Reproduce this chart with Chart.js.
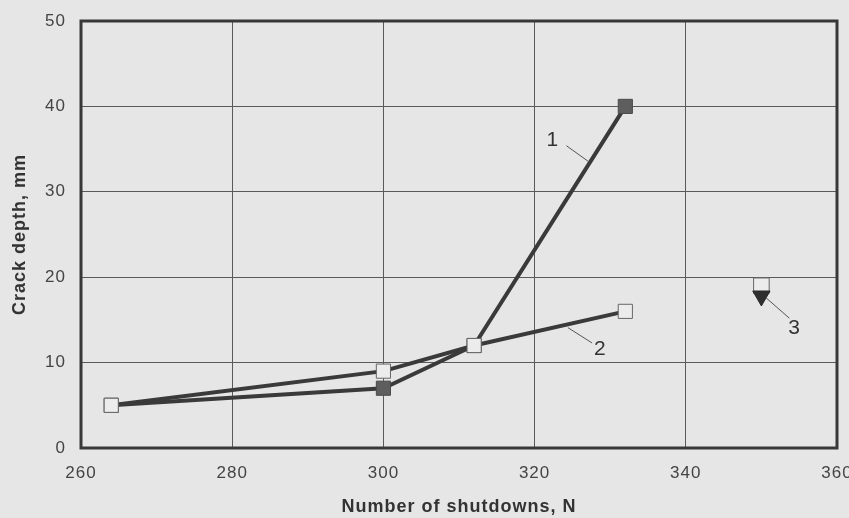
<!DOCTYPE html>
<html>
<head>
<meta charset="utf-8">
<script src="https://cdn.jsdelivr.net/npm/chart.js@4"></script>
<style>
  html, body { margin: 0; padding: 0; background: #e6e6e6; }
  #wrap { width: 849px; height: 518px; }
</style>
</head>
<body>
<div id="wrap"><canvas id="crackChart" width="849" height="518"></canvas></div>
<script>
// values
const shutdowns1 = [264, 300, 312, 332];
const depth1 = [5, 7, 12, 40];
const shutdowns2 = [264, 300, 312, 332];
const depth2 = [5, 9, 12, 16];
const shutdowns3 = [350];
const depth3Square = [19];
const depth3Triangle = [17.8];

// curve numbers with leader lines, in data units: [text, textX, textY, fromX, fromY, toX, toY]
const callouts = [
    ['1', 322.4, 36.1, 324.2, 35.4, 327.2, 33.5],
    ['2', 328.7, 11.6, 327.6, 12.3, 324.4, 14.1],
    ['3', 354.4, 14.0, 353.7, 15.2, 350.6, 17.6]
];

const ink = '#3a3a3a';
const font = '"Liberation Sans", Arial, sans-serif';
const toXY = (xs, ys) => xs.map((x, i) => ({ x: x, y: ys[i] }));

// paper background, and the wide letter spacing of the print
const paper = {
    id: 'paper',
    beforeDraw(chart) {
        const c = chart.ctx;
        c.save();
        c.fillStyle = '#e6e6e6';
        c.fillRect(0, 0, chart.width, chart.height);
        c.restore();
        c.letterSpacing = '1px';
    }
};

// heavy frame all round the plot
const frame = {
    id: 'frame',
    beforeDatasetsDraw(chart) {
        const a = chart.chartArea;
        const c = chart.ctx;
        c.save();
        c.strokeStyle = '#383838';
        c.lineWidth = 3;
        c.strokeRect(a.left, a.top, a.right - a.left, a.bottom - a.top);
        c.restore();
    }
};

const labels = {
    id: 'labels',
    afterDatasetsDraw(chart) {
        const xs = chart.scales.x, ys = chart.scales.y;
        const c = chart.ctx;
        c.save();
        c.strokeStyle = '#555';
        c.lineWidth = 1;
        c.fillStyle = '#333';
        c.font = '21px ' + font;
        c.textAlign = 'center';
        c.textBaseline = 'middle';
        callouts.forEach(([t, tx, ty, fx, fy, ex, ey]) => {
            c.beginPath();
            c.moveTo(xs.getPixelForValue(fx), ys.getPixelForValue(fy));
            c.lineTo(xs.getPixelForValue(ex), ys.getPixelForValue(ey));
            c.stroke();
            c.fillText(t, xs.getPixelForValue(tx), ys.getPixelForValue(ty));
        });
        c.restore();
    }
};

const ctx = document.getElementById('crackChart').getContext('2d');
new Chart(ctx, {
    type: 'scatter',
    data: {
        datasets: [
            {
                label: '3 triangle',
                data: toXY(shutdowns3, depth3Triangle),
                pointStyle: 'triangle',
                rotation: 180,
                pointRadius: 10,
                backgroundColor: '#2e2e2e',
                borderColor: '#2e2e2e',
                borderWidth: 1,
                order: 0
            },
            {
                label: '3 square',
                data: toXY(shutdowns3, depth3Square),
                pointStyle: 'rect',
                pointRadius: 11,
                backgroundColor: '#ececec',
                borderColor: '#666',
                borderWidth: 1,
                order: 1
            },
            {
                label: '2',
                data: toXY(shutdowns2, depth2),
                showLine: true,
                borderColor: ink,
                borderWidth: 4,
                pointStyle: 'rect',
                pointRadius: 10,
                pointBackgroundColor: '#ececec',
                pointBorderColor: '#666',
                pointBorderWidth: 1,
                order: 2
            },
            {
                label: '1',
                data: toXY(shutdowns1, depth1),
                showLine: true,
                borderColor: ink,
                borderWidth: 4,
                pointStyle: 'rect',
                pointRadius: 10,
                pointBackgroundColor: '#5e5e5e',
                pointBorderColor: '#4a4a4a',
                pointBorderWidth: 1,
                order: 3
            }
        ]
    },
    options: {
        responsive: false,
        animation: false,
        events: [],
        layout: {
            autoPadding: false,
            padding: { top: 21, right: 12, left: 0, bottom: 0 }
        },
        plugins: {
            legend: { display: false },
            tooltip: { enabled: false }
        },
        scales: {
            x: {
                type: 'linear',
                min: 260,
                max: 360,
                afterFit: (s) => { s.height = 70; s.paddingLeft = 0; s.paddingRight = 0; },
                ticks: {
                    stepSize: 20,
                    padding: 15,
                    color: '#444',
                    font: { family: font, size: 17 }
                },
                grid: { color: '#5a5a5a', lineWidth: 1, drawTicks: false },
                border: { display: false },
                title: {
                    display: true,
                    text: 'Number of shutdowns, N',
                    color: '#333',
                    padding: { top: 0, bottom: 0 },
                    font: { family: font, size: 18, weight: 'bold' }
                }
            },
            y: {
                min: 0,
                max: 50,
                afterFit: (s) => { s.width = 81; s.paddingTop = 0; s.paddingBottom = 0; },
                ticks: {
                    stepSize: 10,
                    padding: 15,
                    color: '#444',
                    font: { family: font, size: 17 }
                },
                grid: { color: '#5a5a5a', lineWidth: 1, drawTicks: false },
                border: { display: false },
                title: {
                    display: true,
                    text: 'Crack depth, mm',
                    color: '#333',
                    padding: { top: 9, bottom: 0 },
                    font: { family: font, size: 18, weight: 'bold' }
                }
            }
        }
    },
    plugins: [paper, frame, labels]
});
</script>
</body>
</html>
